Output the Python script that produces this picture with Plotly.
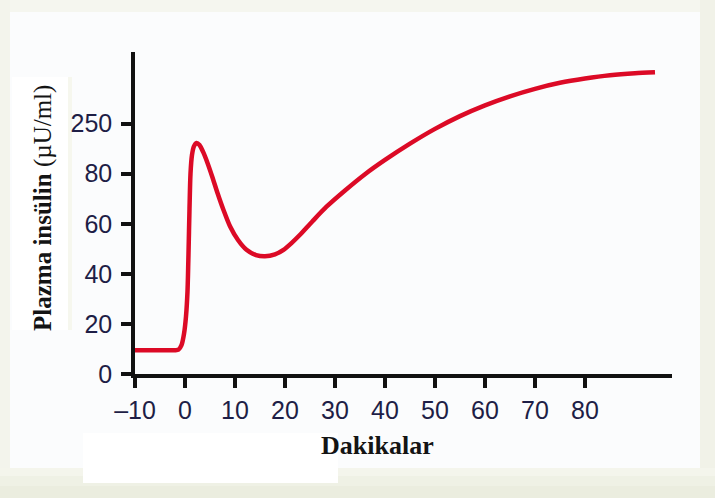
import plotly.graph_objects as go

# Plasma insulin response (biphasic) over time
minutes = [-10, -7, -4, -2, -1.3, -0.7, -0.2, 0.2, 0.5, 0.7, 0.9, 1.1, 1.4, 1.8,
           2.3, 2.9, 3.6, 4.5, 5.5, 6.5, 7.7, 9.0, 10.6, 12.3, 14.2, 16.0, 18.0,
           19.7, 21.3, 23.0, 25.5, 28.3, 32.0, 36.0, 40.0, 45.0, 50.0, 55.0,
           60.0, 65.0, 70.0, 75.0, 80.0, 85.0, 90.0, 94.0]
insulin = [9.5, 9.5, 9.5, 9.5, 9.7, 11.5, 16, 23, 33, 48, 66, 80, 87.5, 91,
           92.3, 91.5, 88.8, 84.3, 78.5, 72.3, 65.5, 59, 53.5, 49.6, 47.5, 47,
           47.8, 49.6, 52.3, 55.6, 61, 66.8, 73.3, 79.8, 85.5, 92, 97.9, 103,
           107.3, 110.9, 113.9, 116.3, 118, 119.3, 120.1, 120.5]

x_ticks = [-10, 0, 10, 20, 30, 40, 50, 60, 70, 80]
x_tick_text = ["\u201310", "0", "10", "20", "30", "40", "50", "60", "70", "80"]
y_ticks = [0, 20, 40, 60, 80, 100]
y_tick_text = ["0", "20", "40", "60", "80", "250"]

W, H = 715, 498
L, R, T, B = 135, 43, 52, 124
PW, PH = W - L - R, H - T - B


def px_x(p):
    return (p - L) / PW


def px_y(p):
    return 1 - (p - T) / PH


LABEL_COLOR = "#1e1e46"
TICK_FONT = dict(family="Liberation Sans Narrow, Arial Narrow, Liberation Sans, Arial",
                 size=25, color=LABEL_COLOR)

fig = go.Figure()
fig.add_trace(go.Scatter(
    x=minutes, y=insulin, mode="lines",
    line=dict(color="#dc0a26", width=4.5, shape="spline", smoothing=0.7),
    hoverinfo="skip", showlegend=False,
))

# page frame and light panels
shapes = []


def rect(x0, y0, x1, y1, color):
    shapes.append(dict(type="rect", xref="paper", yref="paper",
                       x0=px_x(x0), x1=px_x(x1), y0=px_y(y1), y1=px_y(y0),
                       fillcolor=color, line=dict(width=0), layer="below"))


rect(0, 0, W, 12, "#f5f6ef")
rect(0, 0, 10, H, "#f3f4ec")
rect(700, 0, W, H, "#f1f2e8")
rect(0, 468, W, 476, "#f4f5ec")
rect(0, 476, W, 486, "#eff1e5")
rect(0, 486, W, H, "#ebeddf")
rect(83, 433, 338, 483, "#ffffff")
rect(12, 77, 70, 330, "#ffffff")
rect(68, 77, 72, 330, "#f6f7ee")

fig.update_layout(
    width=W, height=H,
    margin=dict(l=L, r=R, t=T, b=B),
    paper_bgcolor="#fbfcfd", plot_bgcolor="#fbfcfd",
    shapes=shapes,
    xaxis=dict(range=[-10, 97.4], tickvals=x_ticks, ticktext=x_tick_text,
               showgrid=False, zeroline=False, showline=True, linecolor="#111111",
               linewidth=3.5, ticks="outside", ticklen=10, tickwidth=3.5,
               tickcolor="#111111", tickfont=TICK_FONT, ticklabelstandoff=1),
    yaxis=dict(range=[0, 128.6], tickvals=y_ticks, ticktext=y_tick_text,
               showgrid=False, zeroline=False, showline=True, linecolor="#111111",
               linewidth=3.5, ticks="outside", ticklen=10, tickwidth=3.5,
               tickcolor="#111111", tickfont=TICK_FONT, ticklabelstandoff=4),
    annotations=[
        dict(text="<b>Dakikalar</b>", xref="paper", yref="paper",
             x=px_x(377), y=px_y(445), showarrow=False,
             xanchor="center", yanchor="middle",
             font=dict(family="Liberation Serif, Times New Roman, serif",
                       size=26, color="#141414")),
        dict(text="<b>Plazma insülin</b> (µU/ml)", xref="paper", yref="paper",
             x=px_x(43), y=px_y(208), showarrow=False, textangle=-90,
             xanchor="center", yanchor="middle",
             font=dict(family="Liberation Serif, Times New Roman, serif",
                       size=25, color="#141414")),
    ],
)

fig.write_html("out.html")
